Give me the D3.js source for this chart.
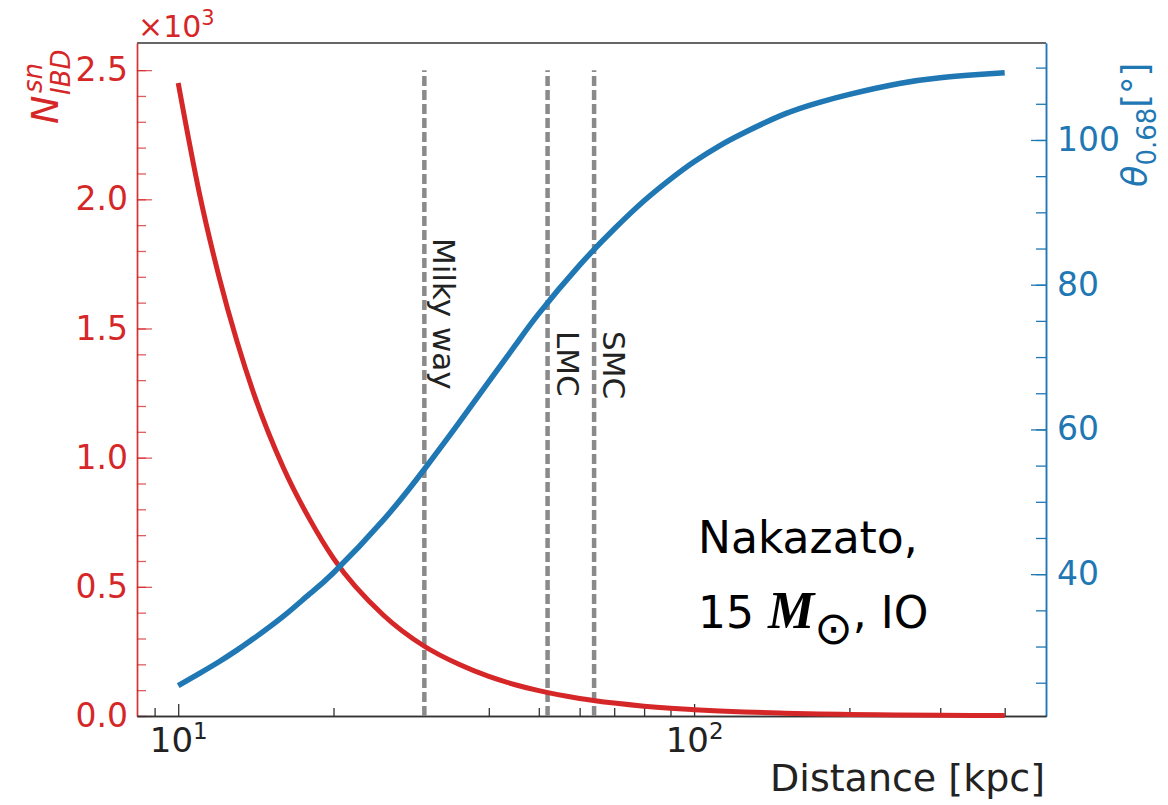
<!DOCTYPE html>
<html>
<head>
<meta charset="utf-8">
<script src="https://cdn.jsdelivr.net/npm/d3@7"></script>
<style>
  body { margin: 0; background: #fff; }
  text { font-family: "DejaVu Sans", sans-serif; }
</style>
</head>
<body>
<svg id="chart" width="1168" height="805"></svg>
<script>
// distance in kpc
const distances = [10, 11, 12, 13, 14, 16, 18, 20, 25, 30, 35, 40, 45, 50, 60, 70, 80, 90, 100, 112, 125, 150, 175, 200, 250, 300, 350, 400];
// IBD events (x10^3)
const nIBD = [2.45, 2.02, 1.70, 1.45, 1.25, 0.96, 0.76, 0.61, 0.39, 0.27, 0.20, 0.153, 0.121, 0.098, 0.068, 0.050, 0.038, 0.030, 0.0245, 0.0195, 0.0157, 0.011, 0.008, 0.006, 0.0039, 0.0027, 0.002, 0.0015];
// 68% pointing angle (degrees)
const theta68 = [24.6, 26.3, 27.9, 29.5, 31.1, 34.2, 37.3, 40.2, 47.5, 54.5, 60.9, 66.6, 71.6, 76.0, 82.7, 87.7, 91.6, 94.6, 97.0, 99.2, 101.0, 103.6, 105.2, 106.3, 107.8, 108.6, 109.0, 109.3];

const markerNames = ['Milky way', 'LMC', 'SMC'];
const markerDist = [30, 52, 64];

const leftTicks = [0, 0.5, 1.0, 1.5, 2.0, 2.5];
const leftMinor = d3.range(0, 26).map(i => i / 10);
const rightTicks = [40, 60, 80, 100];
const rightMinor = d3.range(25, 115, 5);
const xMajor = [10, 100];
const xMinor = [9, 20, 30, 40, 50, 60, 70, 80, 90, 200, 300, 400];

const red = '#d62728', blue = '#1f77b4';
const svg = d3.select('#chart');
const L = 137, R = 1046, T = 43, B = 716;

const x = d3.scaleLog().domain([8.32, 481]).range([L, R]);
const yL = d3.scaleLinear().domain([0, 2.605]).range([B, T]);
const yR = d3.scaleLinear().domain([20.4, 113.4]).range([B, T]);

// top spine
svg.append('line').attr('x1', L).attr('x2', R).attr('y1', T).attr('y2', T)
  .attr('stroke', '#333').attr('stroke-width', 1.5);

// left axis
const glm = svg.append('g').attr('transform', `translate(${L},0)`)
  .call(d3.axisLeft(yL).tickValues(leftMinor).tickSize(-9).tickSizeOuter(0).tickFormat(''));
const gl = svg.append('g').attr('transform', `translate(${L},0)`)
  .call(d3.axisLeft(yL).tickValues(leftTicks).tickSize(-15).tickSizeOuter(0).tickPadding(9).tickFormat(d3.format('.1f')));
[glm, gl].forEach(g => {
  g.selectAll('path.domain').attr('stroke', red).attr('stroke-width', 1.5).attr('opacity', 0.75);
  g.selectAll('line').attr('stroke', red).attr('stroke-width', 1.3).attr('opacity', 0.75);
});
gl.selectAll('text').attr('fill', red).attr('font-size', 33).attr('font-family', 'DejaVu Sans');

// right axis
const grm = svg.append('g').attr('transform', `translate(${R},0)`)
  .call(d3.axisRight(yR).tickValues(rightMinor).tickSize(-10).tickSizeOuter(0).tickFormat(''));
const gr = svg.append('g').attr('transform', `translate(${R},0)`)
  .call(d3.axisRight(yR).tickValues(rightTicks).tickSize(-15).tickSizeOuter(0).tickPadding(11).tickFormat(d3.format('d')));
[grm, gr].forEach(g => {
  g.selectAll('path.domain').attr('stroke', blue).attr('stroke-width', 1.5);
  g.selectAll('line').attr('stroke', blue).attr('stroke-width', 1.3);
});
gr.selectAll('text').attr('fill', blue).attr('font-size', 33).attr('font-family', 'DejaVu Sans');

// bottom axis
const gbm = svg.append('g').attr('transform', `translate(0,${B})`)
  .call(d3.axisBottom(x).tickValues(xMinor).tickSize(-8).tickSizeOuter(0).tickFormat(''));
const gb = svg.append('g').attr('transform', `translate(0,${B})`)
  .call(d3.axisBottom(x).tickValues(xMajor).tickSize(-12).tickSizeOuter(0).tickPadding(12).tickFormat(''));
[gbm, gb].forEach(g => {
  g.selectAll('path.domain').attr('stroke', '#333').attr('stroke-width', 1.5);
  g.selectAll('line').attr('stroke', '#333').attr('stroke-width', 1.3);
});
gb.selectAll('.tick text')
  .attr('font-size', 34).attr('fill', '#222').attr('font-family', 'DejaVu Sans')
  .each(function(d) {
    const t = d3.select(this);
    t.append('tspan').text('10');
    t.append('tspan').attr('font-size', 23).attr('dy', '-0.55em').text(Math.round(Math.log10(d)));
  });

// vertical markers
markerDist.forEach((d, i) => {
  svg.append('line')
    .attr('x1', x(d)).attr('x2', x(d))
    .attr('y1', yL(0)).attr('y2', yL(2.5))
    .attr('stroke', '#8a8a8a').attr('stroke-width', 4.5)
    .attr('stroke-dasharray', '10,4');
  const lx = x(d) + 9, ly = i === 0 ? 238 : 331;
  svg.append('text')
    .attr('x', lx).attr('y', ly)
    .attr('transform', `rotate(90,${lx},${ly})`)
    .attr('font-size', 31).attr('fill', '#222')
    .text(markerNames[i]);
});

// curves
const redLine = d3.line().x(d => x(d[0])).y(d => yL(d[1])).curve(d3.curveMonotoneX);
const blueLine = d3.line().x(d => x(d[0])).y(d => yR(d[1])).curve(d3.curveNatural);

svg.append('path').datum(d3.zip(distances, nIBD))
  .attr('d', redLine).attr('fill', 'none').attr('stroke', red).attr('stroke-width', 5);
svg.append('path').datum(d3.zip(distances, theta68))
  .attr('d', blueLine).attr('fill', 'none').attr('stroke', blue).attr('stroke-width', 5.5);

// offset text x10^3
const off = svg.append('text').attr('x', 138).attr('y', 37).attr('fill', red).attr('font-size', 30);
off.append('tspan').text('\u00d710');
off.append('tspan').attr('font-size', 21).attr('dy', -12).text('3');

// left label N^sn_IBD
const ll = svg.append('g').attr('transform', 'translate(58,124) rotate(-90)').attr('fill', red);
ll.append('text').attr('x', 0).attr('y', 0).attr('font-size', 38).attr('font-style', 'italic').text('N');
ll.append('text').attr('x', 31).attr('y', -16).attr('font-size', 26).attr('font-style', 'italic').text('sn');
ll.append('text').attr('x', 29).attr('y', 12).attr('font-size', 26).attr('font-style', 'italic').text('IBD');

// right label theta_0.68 [deg]
const rl = svg.append('g').attr('transform', 'translate(1147,187) rotate(-90)').attr('fill', blue);
const rt = rl.append('text').attr('x', 0).attr('y', 0).attr('font-size', 35);
rt.append('tspan').attr('font-style', 'italic').text('\u03b8');
rt.append('tspan').attr('font-size', 26).attr('dy', 9).text('0.68');
rt.append('tspan').attr('dy', -9).text('[\u00b0]');

// x label
svg.append('text').attr('x', 1045).attr('y', 791).attr('text-anchor', 'end')
  .attr('font-size', 38).attr('fill', '#222').text('Distance [kpc]');

// annotation
svg.append('text').attr('x', 698).attr('y', 553).attr('font-family', 'Open Sans')
  .attr('font-size', 44).attr('fill', '#000').text('Nakazato,');
const a2 = svg.append('text').attr('x', 698).attr('y', 628).attr('font-family', 'Open Sans')
  .attr('font-size', 44).attr('fill', '#000');
a2.append('tspan').text('15 ');
a2.append('tspan').attr('font-family', 'Liberation Serif').attr('font-weight', 'bold')
  .attr('font-style', 'italic').attr('font-size', 52).text('M');
a2.append('tspan').attr('font-family', 'DejaVu Sans').attr('font-size', 46).attr('dy', 16).text('\u2299');
a2.append('tspan').attr('dy', -16).text(', IO');
</script>
</body>
</html>
